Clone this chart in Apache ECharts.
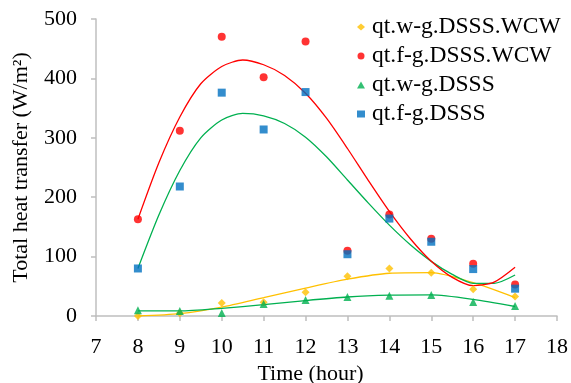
<!DOCTYPE html>
<html>
<head>
<meta charset="utf-8">
<script src="https://cdn.jsdelivr.net/npm/echarts@6/dist/echarts.min.js"></script>
<style>
  html, body { margin: 0; padding: 0; background: #fff; }
  #chart { width: 571px; height: 383px; }
</style>
</head>
<body>
<div id="chart"></div>
<script>
// measured hours and values (W/m2)
const hours = [8, 9, 10, 11, 12, 13, 14, 15, 16, 17];
const wgWcw = [0, 4.5, 22, 23, 40, 67, 80, 73, 45, 33];
const fgWcw = [163, 312, 470, 402, 462, 110, 171, 130, 88, 53];
const wgDsss = [9.5, 8.5, 5, 20, 27, 32, 34, 35.5, 23.5, 17];
const fgDsss = [80, 218, 376, 314, 377, 104, 164, 125, 79, 46];

// trend curves
const trendHoursFine = [8, 8.5, 9, 9.5, 10, 10.5, 11, 11.5, 12, 12.5, 13, 13.5, 14, 14.5, 15, 15.5, 16, 16.5, 17];
const fgWcwTrend = [163, 258, 335, 391, 420, 431, 423, 405, 375, 333, 282, 228, 176, 130, 92, 65, 51, 57, 82];
const fgDsssTrend = [80, 170, 245, 300, 330, 341, 337, 324, 301, 268, 229, 190, 153, 120, 92, 70, 55, 55, 69];
const trendHours = [8, 9, 10, 11, 12, 13, 14, 15, 16, 17];
const wgWcwTrend = [0, 4, 15, 31, 47, 62, 72, 73, 56, 31];
const wgDsssTrend = [8.5, 8.5, 13, 19, 26, 32, 35, 35.5, 28, 16];

const names = ['qt.w-g.DSSS.WCW', 'qt.f-g.DSSS.WCW', 'qt.w-g.DSSS', 'qt.f-g.DSSS'];
const FONT = 'Liberation Serif, Times New Roman, serif';
const AXIS_GRAY = '#bfbfbf';

const pairs = (xs, ys) => xs.map((x, i) => [x, ys[i]]);

const chart = echarts.init(document.getElementById('chart'));

function trendLine(xs, ys, color) {
  return {
    type: 'line',
    data: pairs(xs, ys),
    smooth: 0.25,
    showSymbol: false,
    silent: true,
    lineStyle: { color, width: 1.3 },
    z: 1,
  };
}

function points(name, ys, symbol, color, size) {
  return {
    name,
    type: 'scatter',
    data: pairs(hours, ys),
    symbol,
    symbolSize: size,
    itemStyle: { color },
    z: 3,
  };
}

chart.setOption({
  animation: false,
  textStyle: { fontFamily: FONT },
  grid: { left: 96, right: 14, top: 19, bottom: 67, containLabel: false, outerBoundsMode: 'none' },
  legend: {
    orient: 'vertical',
    left: 352,
    top: 10,
    itemWidth: 8,
    itemHeight: 7,
    itemGap: 5,
    data: [
      { name: names[0], icon: 'diamond' },
      { name: names[1], icon: 'circle' },
      { name: names[2], icon: 'triangle' },
      { name: names[3], icon: 'rect' },
    ],
    textStyle: { fontFamily: FONT, fontSize: 23.5, color: '#000', padding: [0, 0, 0, 2] },
  },
  xAxis: {
    type: 'value',
    min: 7,
    max: 18,
    interval: 1,
    name: 'Time (hour)',
    nameLocation: 'middle',
    nameGap: 43,
    nameTextStyle: { fontFamily: FONT, fontSize: 22, color: '#000', padding: [0, 32, 0, 0] },
    axisLine: { show: true, lineStyle: { color: AXIS_GRAY, width: 1.5 } },
    axisTick: { show: true, length: 5, lineStyle: { color: AXIS_GRAY, width: 1.5 } },
    axisLabel: { fontFamily: FONT, fontSize: 22, color: '#000', margin: 20 },
    splitLine: { show: false },
  },
  yAxis: {
    type: 'value',
    min: 0,
    max: 500,
    interval: 100,
    name: 'Total heat transfer (W/m²)',
    nameLocation: 'middle',
    nameGap: 64,
    nameTextStyle: { fontFamily: FONT, fontSize: 22, color: '#000' },
    axisLine: { show: true, lineStyle: { color: AXIS_GRAY, width: 1.5 } },
    axisTick: { show: true, length: 5, lineStyle: { color: AXIS_GRAY, width: 1.5 } },
    axisLabel: { fontFamily: FONT, fontSize: 22, color: '#000', margin: 19 },
    splitLine: { show: false },
  },
  series: [
    trendLine(trendHours, wgWcwTrend, '#ffc000'),
    trendLine(trendHours, wgDsssTrend, '#00b050'),
    trendLine(trendHoursFine, fgDsssTrend, '#00b050'),
    trendLine(trendHoursFine, fgWcwTrend, '#ff0000'),
    points(names[0], wgWcw, 'diamond', '#ffc000', 8),
    points(names[1], fgWcw, 'circle', '#ff0000', 8),
    points(names[2], wgDsss, 'triangle', '#00b050', 8),
    points(names[3], fgDsss, 'rect', '#0070c0', 8),
  ],
});
</script>
</body>
</html>
